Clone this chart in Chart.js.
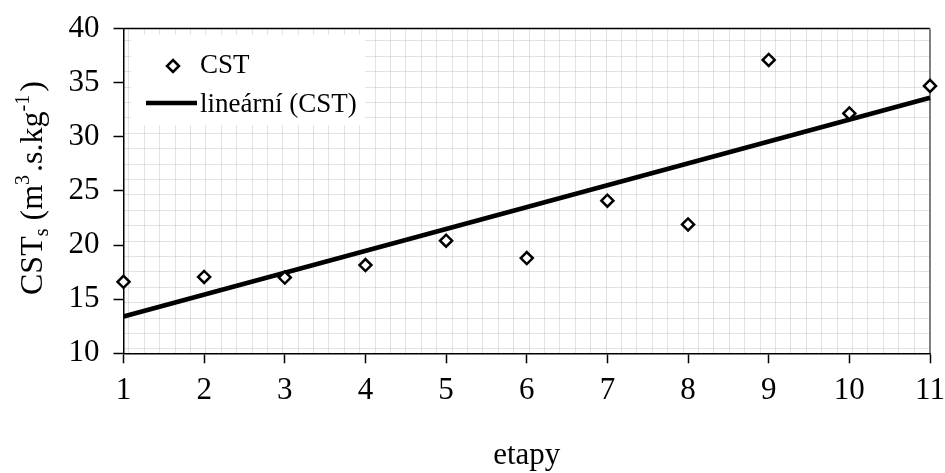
<!DOCTYPE html>
<html><head><meta charset="utf-8">
<script src="https://cdn.jsdelivr.net/npm/chart.js@4.4.1/dist/chart.umd.min.js"></script>
<style>html,body{margin:0;padding:0;background:#fff;}</style>
</head><body>
<canvas id="c" width="945" height="473"></canvas>
<script>
const etapy = [1, 2, 3, 4, 5, 6, 7, 8, 9, 10, 11];
const cstValues = [16.6, 17.05, 17.0, 18.15, 20.4, 18.8, 24.1, 21.9, 37.1, 32.15, 34.7];
const trendX = [1, 11];
const trendValues = [13.4, 33.6];
const seriesNames = ['CST', 'lineární (CST)'];
const xTitle = 'etapy';
const yTitleParts = [
  {t: 'CST', sub: 0}, {t: 's', sub: 1}, {t: ' (m', sub: 0}, {t: '3', sub: 2},
  {t: '.s.kg', sub: 0}, {t: '-1', sub: 2}, {t: ')', sub: 0}
];
const FONT = '"Liberation Serif", "Times New Roman", serif';
Chart.defaults.font.family = FONT;
Chart.defaults.color = '#000';

function makeIcon(kind) {
  const c = document.createElement('canvas');
  c.width = 80; c.height = 24;
  const g = c.getContext('2d');
  g.strokeStyle = '#000';
  if (kind === 0) {
    g.fillStyle = '#fff'; g.lineWidth = 2.5;
    g.beginPath();
    g.moveTo(52, 6); g.lineTo(58, 12); g.lineTo(52, 18); g.lineTo(46, 12); g.closePath();
    g.fill(); g.stroke();
  } else {
    g.lineWidth = 4.5;
    g.beginPath(); g.moveTo(25, 10); g.lineTo(76, 10); g.stroke();
  }
  return c;
}
const legendIcons = [makeIcon(0), makeIcon(1)];

const bgPlugin = {
  id: 'plotBg',
  beforeDraw(chart) {
    const {ctx, chartArea: a} = chart;
    ctx.save();
    ctx.fillStyle = '#fff'; ctx.fillRect(0, 0, chart.width, chart.height);
    ctx.strokeStyle = '#c4c4c4'; ctx.lineWidth = 1; ctx.setLineDash([1, 1]);
    const step = 15.4;
    ctx.beginPath();
    for (let x = a.left + 4.8; x < a.right - 1.5; x += step) {
      const px = Math.round(x) + 0.5; ctx.moveTo(px, a.top); ctx.lineTo(px, a.bottom);
    }
    for (let y = a.bottom - 5; y > a.top + 1.5; y -= step) {
      const py = Math.round(y) + 0.5; ctx.moveTo(a.left, py); ctx.lineTo(a.right, py);
    }
    ctx.stroke();
    ctx.setLineDash([]);
    ctx.fillStyle = '#fff';
    ctx.fillRect(a.left + 7.5, a.top + 6.5, 234, 90);
    ctx.strokeStyle = '#000'; ctx.lineWidth = 1.5;
    ctx.beginPath(); ctx.moveTo(a.left, a.top); ctx.lineTo(a.right, a.top); ctx.stroke();
    ctx.strokeStyle = '#808080'; ctx.lineWidth = 2;
    ctx.beginPath(); ctx.moveTo(a.right, a.top); ctx.lineTo(a.right, a.bottom); ctx.stroke();
    ctx.restore();
  }
};

const yTitlePlugin = {
  id: 'yTitle',
  afterDraw(chart) {
    const ctx = chart.ctx;
    ctx.save();
    ctx.translate(41.7, 295);
    ctx.rotate(-Math.PI / 2);
    ctx.fillStyle = '#000'; ctx.textBaseline = 'alphabetic'; ctx.textAlign = 'left';
    let x = 0;
    for (const p of yTitleParts) {
      const size = p.sub ? 20 : 32;
      const dy = p.sub === 1 ? 6 : (p.sub === 2 ? -13 : 0);
      ctx.font = size + 'px ' + FONT;
      ctx.fillText(p.t, x, dy);
      x += ctx.measureText(p.t).width + (p.sub === 2 ? 3 : 0);
    }
    ctx.restore();
  }
};

new Chart(document.getElementById('c'), {
  data: {
    datasets: [
      {
        type: 'scatter', label: seriesNames[0],
        data: etapy.map((e, i) => ({x: e, y: cstValues[i]})),
        pointStyle: 'rectRot', pointRadius: 6, pointBorderWidth: 2.5,
        borderColor: '#000', backgroundColor: '#fff', clip: false
      },
      {
        type: 'line', label: seriesNames[1],
        data: trendX.map((e, i) => ({x: e, y: trendValues[i]})),
        borderColor: '#000', borderWidth: 4.5, pointRadius: 0, fill: false, clip: false
      }
    ]
  },
  options: {
    responsive: false, animation: false, devicePixelRatio: 1,
    layout: {padding: {top: 28.5, right: 15, bottom: 0, left: 0}},
    plugins: {
      tooltip: {enabled: false},
      legend: {
        position: 'chartArea', align: 'start',
        title: {display: true, text: '', font: {size: 1}, padding: {top: 39.3, bottom: 0}},
        labels: {
          usePointStyle: true, pointStyleWidth: 51, padding: 12, color: '#000',
          font: {size: 27, family: FONT},
          generateLabels(chart) {
            return chart.data.datasets.map((ds, i) => ({
              text: ds.label, pointStyle: legendIcons[i], fillStyle: '#fff',
              strokeStyle: '#000', lineWidth: 0, hidden: false, datasetIndex: i, fontColor: '#000'
            }));
          }
        }
      }
    },
    scales: {
      x: {
        type: 'linear', min: 1, max: 11,
        ticks: {stepSize: 1, padding: 9, color: '#000', font: {size: 31, family: FONT}},
        grid: {drawOnChartArea: false, drawTicks: true, tickLength: 10, tickColor: '#000', tickWidth: 1.5},
        border: {display: true, color: '#000', width: 1.5},
        title: {display: true, text: xTitle, color: '#000', font: {size: 31, family: FONT, lineHeight: 1.1}, padding: 0},
        afterFit(s) { s.height = 119.7; s.paddingLeft = 0; s.paddingRight = 0; }
      },
      y: {
        type: 'linear', min: 10, max: 40,
        ticks: {stepSize: 5, padding: 14, color: '#000', font: {size: 31, family: FONT}},
        grid: {drawOnChartArea: false, drawTicks: true, tickLength: 10, tickColor: '#000', tickWidth: 1.5},
        border: {display: true, color: '#000', width: 1.5},
        afterFit(s) { s.width = 123.5; s.paddingTop = 0; s.paddingBottom = 0; }
      }
    }
  },
  plugins: [bgPlugin, yTitlePlugin]
});
</script>
</body></html>
